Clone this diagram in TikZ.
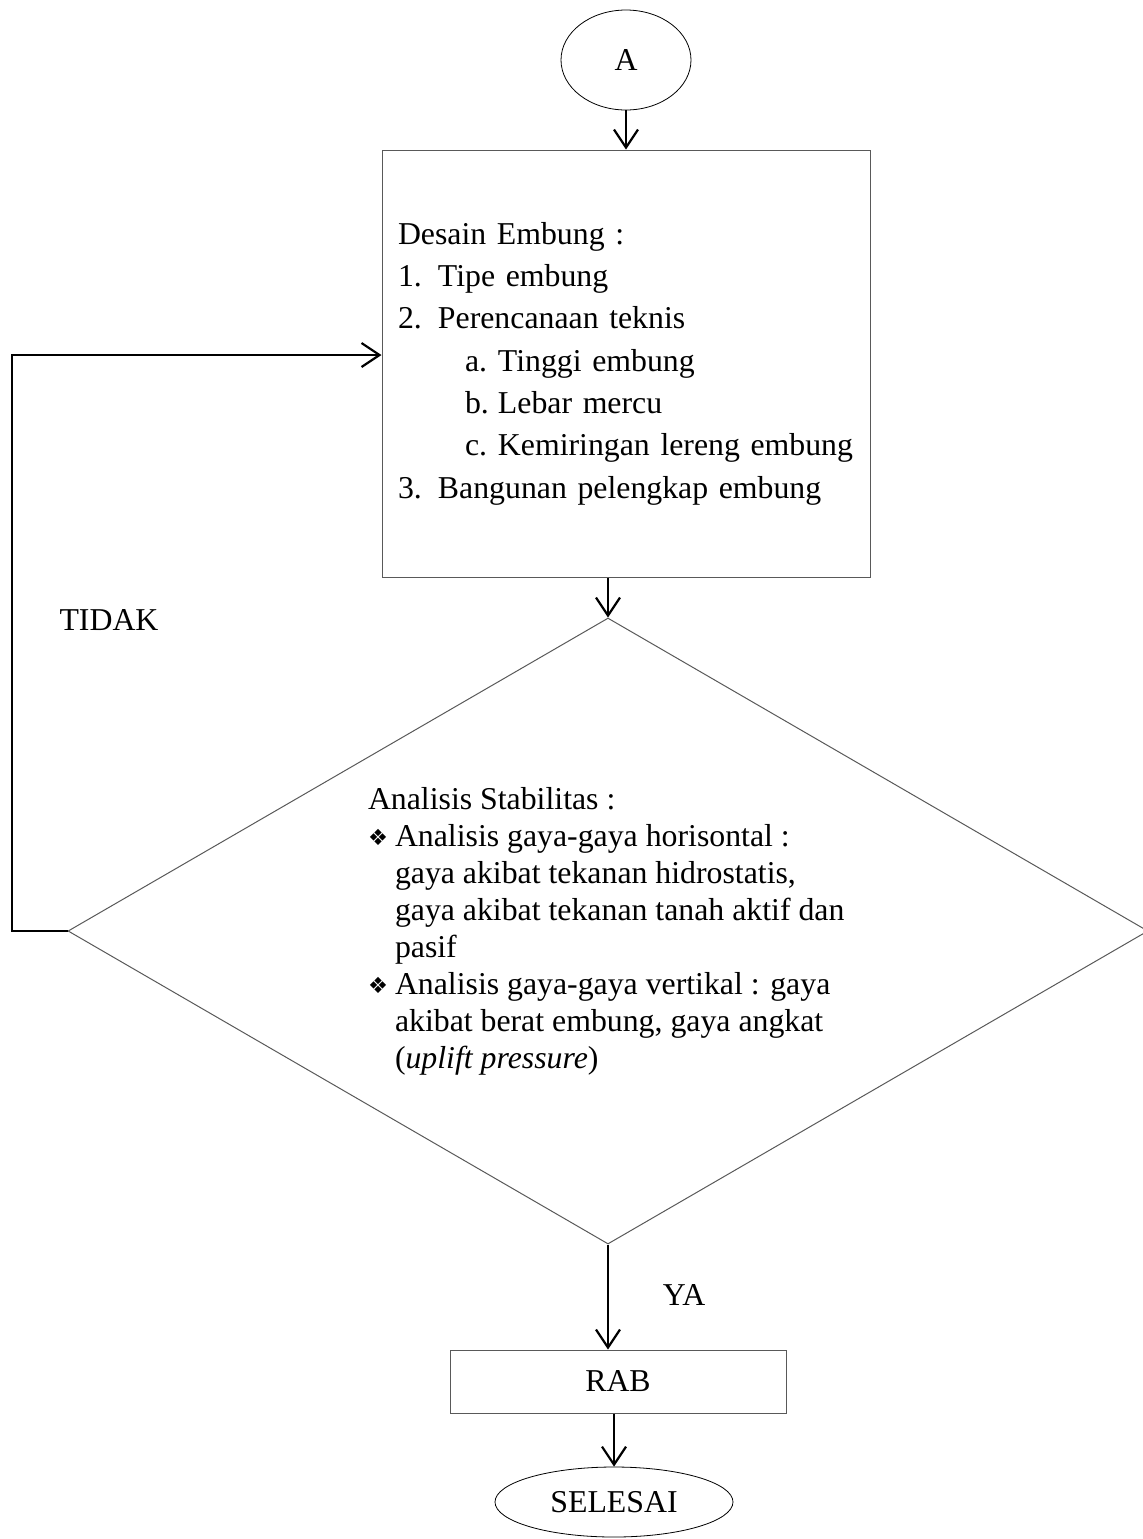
\documentclass[tikz,border=0pt]{standalone}
\usepackage{fontspec}
\setmainfont{Liberation Serif}
\newfontfamily\bulletfont{DejaVu Sans}
\usetikzlibrary{shapes.geometric,arrows.meta}

\definecolor{strokecol}{rgb}{0,0,0}
\definecolor{edgeGray}{rgb}{0.35,0.35,0.35}

\newcommand{\numline}[2]{\makebox[20pt][l]{#1}#2}
\newcommand{\subline}[2]{\hspace*{33.5pt}\makebox[16.5pt][l]{#1}#2}
\newcommand{\bulline}{\makebox[13.5pt][l]{\raisebox{0.5pt}{\bulletfont\scalebox{0.7}{❖}}}}
\newcommand{\contline}{\hspace*{13.5pt}}

\begin{document}
\begin{tikzpicture}[x=0.5pt, y=-0.5pt,
    every node/.style={font=\fontsize{15.9pt}{21.15pt}\selectfont},
    terminal/.style={ellipse, draw=strokecol, line width=0.4pt, inner sep=0pt},
    process/.style={rectangle, draw=edgeGray, line width=0.5pt},
    decision/.style={diamond, draw=edgeGray, line width=0.5pt, inner sep=0pt, aspect=1.725},
    conn/.style={-{Straight Barb[length=9pt, width=12pt, line width=1.1pt]}, line width=1.1pt, draw=strokecol}]

    \useasboundingbox (0,0) rectangle (1143,1539);

    % start
    \node[terminal, minimum width=65pt, minimum height=50pt] (start) at (626,60) {A};

    % desain embung
    \node[process, minimum width=244pt, minimum height=213.5pt, text width=228pt, align=left,
          inner xsep=8pt] (design) at (626,363.5) {%
        Desain Embung :\\
        \numline{1.}{Tipe embung}\\
        \numline{2.}{Perencanaan teknis}\\
        \subline{a.}{Tinggi embung}\\
        \subline{b.}{Lebar mercu}\\
        \subline{c.}{Kemiringan lereng embung}\\
        \numline{3.}{Bangunan pelengkap embung}};

    % analisis stabilitas
    \node[decision, minimum width=540pt, minimum height=313pt] (check) at (608,931) {%
        \begin{minipage}{240pt}\fontsize{15.9pt}{18.5pt}\selectfont
        Analisis Stabilitas :\\
        \bulline Analisis gaya-gaya horisontal :\\
        \contline gaya akibat tekanan hidrostatis,\\
        \contline gaya akibat tekanan tanah aktif dan\\
        \contline pasif\\
        \bulline Analisis gaya-gaya vertikal : gaya\\
        \contline akibat berat embung, gaya angkat\\
        \contline (\textit{uplift pressure})
        \end{minipage}};

    % rab + selesai
    \node[process, minimum width=168pt, minimum height=31.5pt] (rab) at (618,1381.5) {RAB};
    \node[terminal, minimum width=119pt, minimum height=35pt] (finish) at (614,1502) {SELESAI};

    % labels
    \node (tidak) at (109,620) {TIDAK};
    \node (ya) at (684,1295) {YA};

    % loop back
    \coordinate (looptop) at (12,355);

    \draw[conn] (start.south) -- (start.south |- design.north);
    \draw[conn] (check.north |- design.south) -- (check.north);
    \draw[conn] (check.south) -- (check.south |- rab.north);
    \draw[conn] (finish.north |- rab.south) -- (finish.north);
    \draw[conn] (check.west) -- (check.west -| looptop) -- (looptop) -- (design.west |- looptop);
\end{tikzpicture}
\end{document}
